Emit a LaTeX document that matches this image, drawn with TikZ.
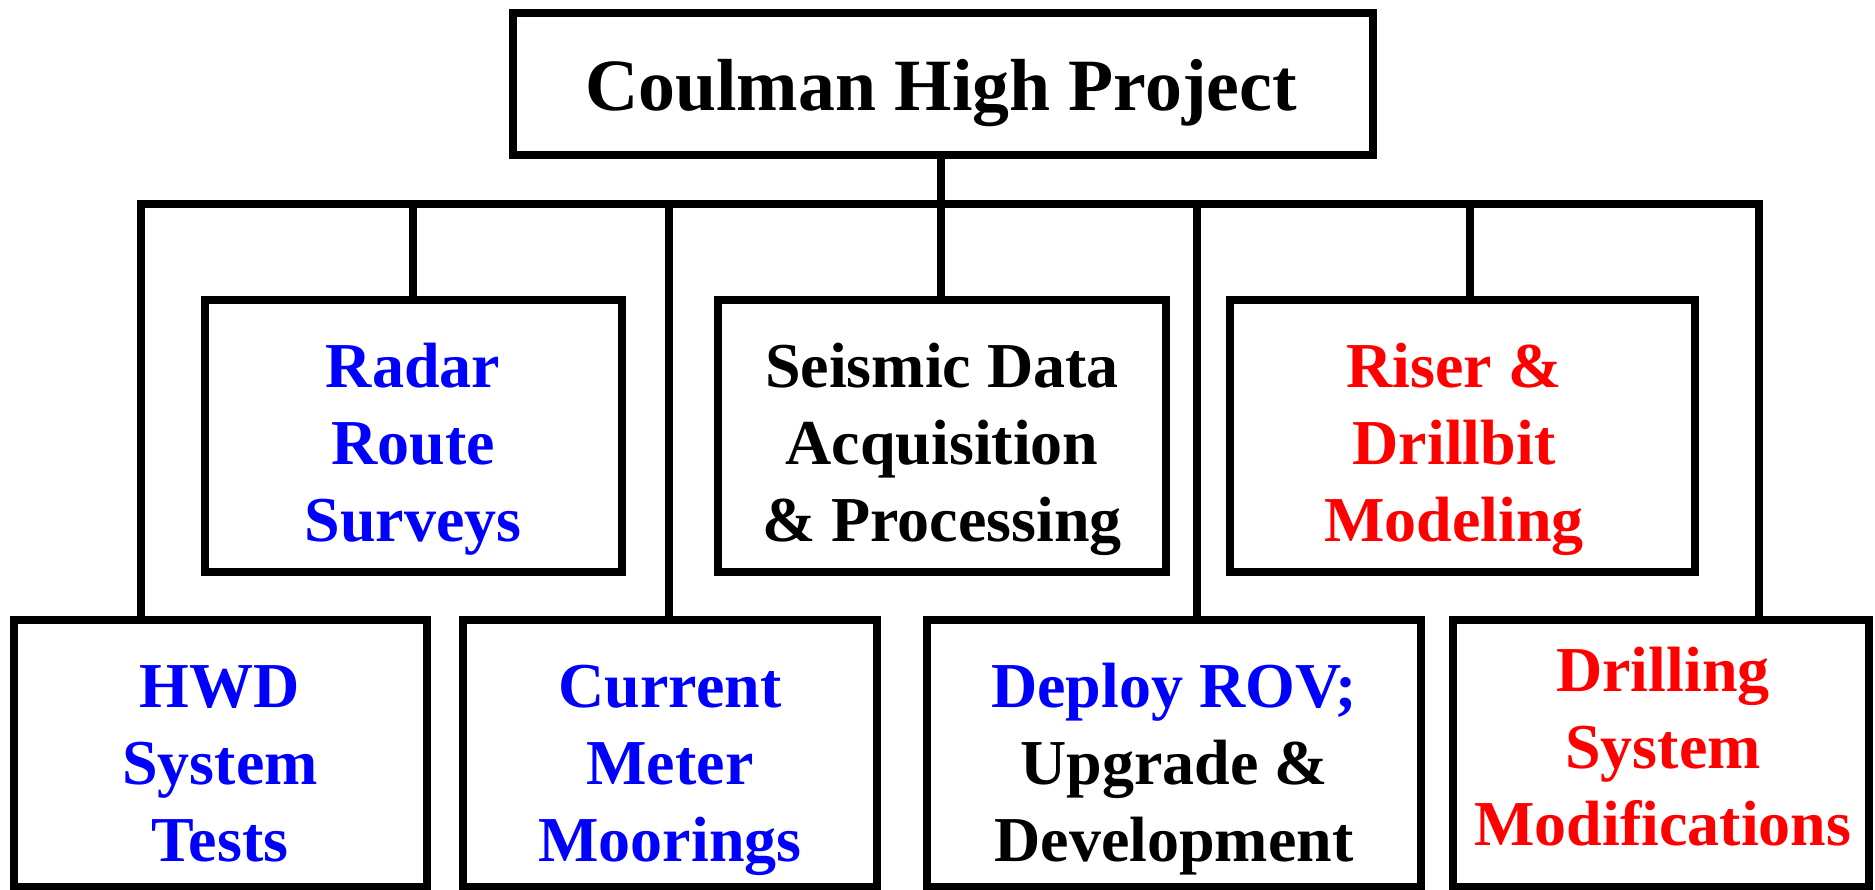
\documentclass[tikz,border=0pt]{standalone}
\usepackage{fontspec}
\setmainfont{Liberation Serif}
\definecolor{tblue}{RGB}{0,0,255}
\definecolor{tred}{RGB}{255,0,0}
\begin{document}
\begin{tikzpicture}[x=0.4pt,y=-0.4pt,
  box/.style={draw=black,line width=3.2pt,inner sep=0pt,outer sep=0pt,rectangle},
  conn/.style={draw=black,line width=3.2pt},
  lbl/.style={anchor=base,inner sep=0pt,font=\fontsize{25.6pt}{30.8pt}\selectfont\bfseries},
  ttl/.style={anchor=base,inner sep=0pt,font=\fontsize{29.5pt}{35pt}\selectfont\bfseries}]
\useasboundingbox (0,0) rectangle (1875,889);
% boxes
\node[box,minimum width=344pt,minimum height=56.8pt] (top) at (943,84) {};
\node[box,minimum width=166.8pt,minimum height=108.8pt] (radar) at (413.5,436) {};
\node[box,minimum width=179.2pt,minimum height=108.8pt] (seismic) at (942,436) {};
\node[box,minimum width=186pt,minimum height=108.8pt] (riser) at (1462.5,436) {};
\node[box,minimum width=165.2pt,minimum height=106.8pt] (hwd) at (220.5,753.5) {};
\node[box,minimum width=165.6pt,minimum height=106.8pt] (current) at (670,753.5) {};
\node[box,minimum width=197.6pt,minimum height=106.8pt] (deploy) at (1174,753.5) {};
\node[box,minimum width=166.4pt,minimum height=106.8pt] (drilling) at (1661,753.5) {};
% connectors
\coordinate (busL) at (141,204);
\coordinate (busR) at (1759,204);
\coordinate (busM) at (941,204);
\draw[conn] (hwd.north -| busL) -- (busL) -- (busR) -- (drilling.north -| busR);
\draw[conn] (top.south -| busM) -- (busM) -- (seismic.north -| busM);
\draw[conn] (413,204) -- (radar.north -| 413,204);
\draw[conn] (1470,204) -- (riser.north -| 1470,204);
\draw[conn] (669,204) -- (current.north -| 669,204);
\draw[conn] (1197,204) -- (deploy.north -| 1197,204);
% texts
\node[ttl] (ttop) at (941,110) {Coulman High Project};
\node[lbl,text=tblue] (tradar) at (413,387) {\begin{tabular}[t]{@{}c@{}}Radar\\Route\\Surveys\end{tabular}};
\node[lbl] (tseismic) at (942,387) {\begin{tabular}[t]{@{}c@{}}Seismic Data\\Acquisition\\\& Processing\end{tabular}};
\node[lbl,text=tred] (triser) at (1454,387) {\begin{tabular}[t]{@{}c@{}}Riser \&\\Drillbit\\Modeling\end{tabular}};
\node[lbl,text=tblue] (thwd) at (220,707) {\begin{tabular}[t]{@{}c@{}}HWD\\System\\Tests\end{tabular}};
\node[lbl,text=tblue] (tcurrent) at (670,707) {\begin{tabular}[t]{@{}c@{}}Current\\Meter\\Moorings\end{tabular}};
\node[lbl] (tdeploy) at (1174,707) {\begin{tabular}[t]{@{}c@{}}\textcolor{tblue}{Deploy ROV;}\\Upgrade \&\\Development\end{tabular}};
\node[lbl,text=tred] (tdrilling) at (1663,691) {\begin{tabular}[t]{@{}c@{}}Drilling\\System\\Modifications\end{tabular}};
\end{tikzpicture}
\end{document}
